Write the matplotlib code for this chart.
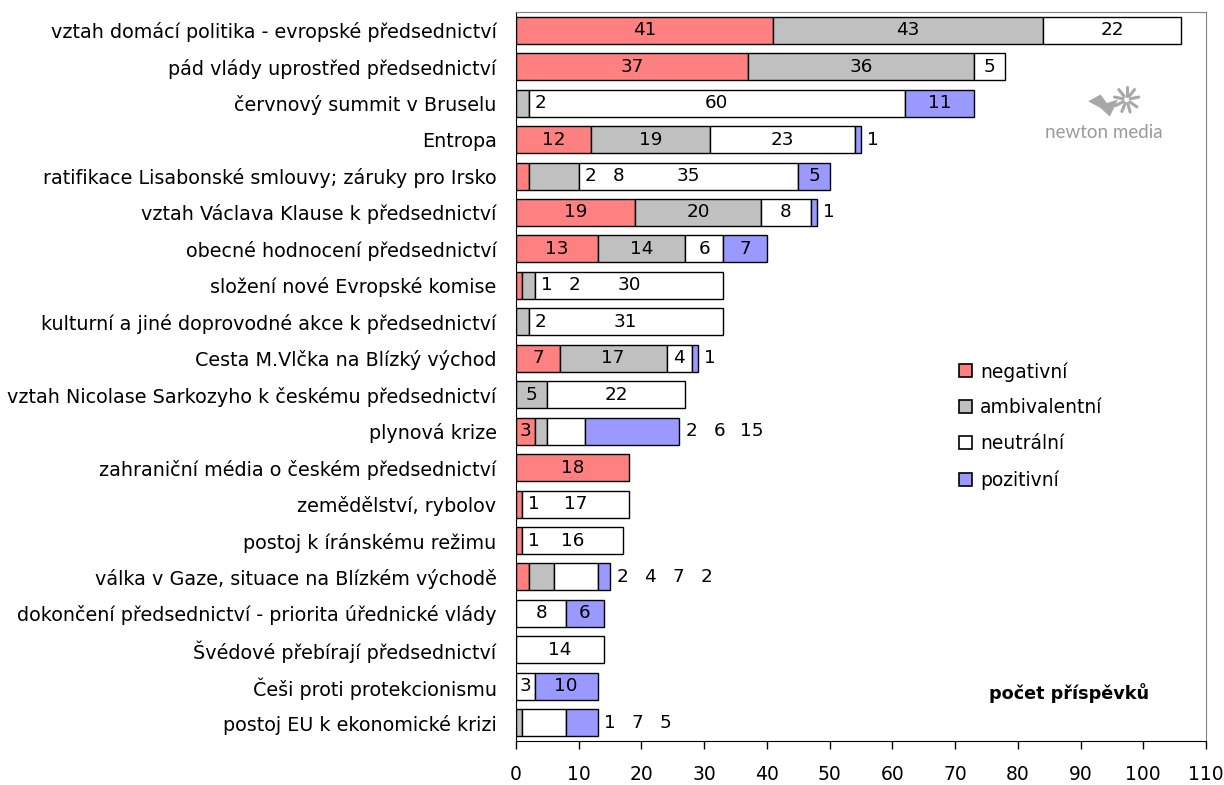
import matplotlib
matplotlib.use("Agg")
import matplotlib.pyplot as plt
from matplotlib.patches import Patch
import numpy as np

# topics (top to bottom) and counts per tone
topics = [
    "vztah domácí politika - evropské předsednictví",
    "pád vlády uprostřed předsednictví",
    "červnový summit v Bruselu",
    "Entropa",
    "ratifikace Lisabonské smlouvy; záruky pro Irsko",
    "vztah Václava Klause k předsednictví",
    "obecné hodnocení předsednictví",
    "složení nové Evropské komise",
    "kulturní a jiné doprovodné akce k předsednictví",
    "Cesta M.Vlčka na Blízký východ",
    "vztah Nicolase Sarkozyho k českému předsednictví",
    "plynová krize",
    "zahraniční média o českém předsednictví",
    "zemědělství, rybolov",
    "postoj k íránskému režimu",
    "válka v Gaze, situace na Blízkém východě",
    "dokončení předsednictví - priorita úřednické vlády",
    "Švédové přebírají předsednictví",
    "Češi proti protekcionismu",
    "postoj EU k ekonomické krizi",
]
negativni    = [41, 37, 0, 12, 2, 19, 13, 1, 0, 7, 0, 3, 18, 1, 1, 2, 0, 0, 0, 0]
ambivalentni = [43, 36, 2, 19, 8, 20, 14, 2, 2, 17, 5, 2, 0, 0, 0, 4, 0, 0, 0, 1]
neutralni    = [22, 5, 60, 23, 35, 8, 6, 30, 31, 4, 22, 6, 0, 17, 16, 7, 8, 14, 3, 7]
pozitivni    = [0, 0, 11, 1, 5, 1, 7, 0, 0, 1, 0, 15, 0, 0, 0, 2, 6, 0, 10, 5]

series = ["negativní", "ambivalentní", "neutrální", "pozitivní"]
colors = ["#ff8080", "#c0c0c0", "#ffffff", "#9999ff"]

# label placement as in the original: c = centred, w = chained from start of
# the neutral segment, e = chained after the bar end
label_mode = ["ccc.", "ccc.", ".wcc", "ccce", "wwcc", "ccce", "cccc", "wwc.",
              ".wc.", "ccce", ".cc.", "ceee", "c...", "w.c.", "w.c.", "eeee",
              "..cc", "..c.", "..cc", ".eee"]

plt.rcParams["font.family"] = ["DejaVu Sans"]
fig = plt.figure(figsize=(12.24, 7.85), dpi=100)
ax = fig.add_axes([516 / 1224, 1 - 741 / 785, 690 / 1224, 729 / 785])

data = np.array([negativni, ambivalentni, neutralni, pozitivni], dtype=float)
y = np.arange(len(topics))
left = np.zeros(len(topics))
for vals, col in zip(data, colors):
    nz = vals > 0
    ax.barh(y[nz], vals[nz], left=left[nz], height=0.74, color=col,
            edgecolor="black", linewidth=1.0)
    left += vals

PX = 0.72  # points per pixel at 100 dpi
fs = 13.2
for i in range(len(topics)):
    starts = np.concatenate([[0], np.cumsum(data[:, i])[:-1]])
    total = data[:, i].sum()
    chains = {"w": [starts[2], 12], "e": [total, 12]}
    prev_len = {"w": None, "e": None}
    for k in range(4):
        v = int(data[k, i])
        m = label_mode[i][k]
        if v == 0 or m == ".":
            continue
        s = str(v)
        if m == "c":
            ax.text(starts[k] + v / 2, i, s, ha="center", va="center", fontsize=fs)
        else:
            anchor, off = chains[m]
            if prev_len[m] is not None:
                off += 28 + 4.5 * (prev_len[m] - 1) + 4.5 * (len(s) - 1)
            ax.annotate(s, (anchor, i), xytext=(off * PX, 0),
                        textcoords="offset points", ha="center", va="center",
                        fontsize=fs)
            chains[m][1] = off
            prev_len[m] = len(s)

ax.set_xlim(0, 110)
ax.set_ylim(len(topics) - 0.5, -0.5)
ax.set_xticks(np.arange(0, 111, 10))
ax.tick_params(axis="x", direction="out", length=6, width=1, pad=11, labelsize=13.5)
ax.set_yticks(y)
ax.set_yticklabels(topics, fontsize=13.8)
ax.tick_params(axis="y", length=0, pad=14)
for side in ("top", "right"):
    ax.spines[side].set_color("#808080")
for side in ("left", "bottom"):
    ax.spines[side].set_color("black")

handles = [Patch(facecolor=c, edgecolor="black", linewidth=1.2) for c in colors]
ax.legend(handles, series, loc="upper left",
          bbox_to_anchor=((959 - 516) / 690, (741 - 362) / 729),
          frameon=False, fontsize=13.5, handlelength=0.69, handleheight=0.69,
          handletextpad=0.42, labelspacing=0.9, borderpad=0, borderaxespad=0)

ax.text((1069 - 516) / 690, (741 - 693) / 729, "počet příspěvků",
        transform=ax.transAxes, ha="center", va="center", fontsize=12.7,
        fontweight="bold")

# newton media watermark
ax.text((1104 - 516) / 690, (741 - 133) / 729, "newton media",
        transform=ax.transAxes, ha="center", va="center", fontsize=13.5,
        color="#9a9a9a", family="Lato")
lx = fig.add_axes([1082 / 1224, 1 - 120 / 785, 62 / 1224, 34 / 785])
lx.axis("off")
ang = np.linspace(0.2, 2 * np.pi - 0.6, 9)
for a in ang:
    lx.plot([0.72 + 0.06 * np.cos(a), 0.72 + 0.2 * np.cos(a)],
            [0.6 + 0.12 * np.sin(a), 0.6 + 0.38 * np.sin(a)],
            color="#a8a8a8", lw=2.2, solid_capstyle="round")
lx.fill([0.1, 0.3, 0.45, 0.58, 0.4, 0.3], [0.55, 0.35, 0.1, 0.6, 0.5, 0.75],
        color="#a8a8a8", lw=0)
lx.set_xlim(0, 1)
lx.set_ylim(0, 1)

fig.savefig("out.png", dpi=100)
